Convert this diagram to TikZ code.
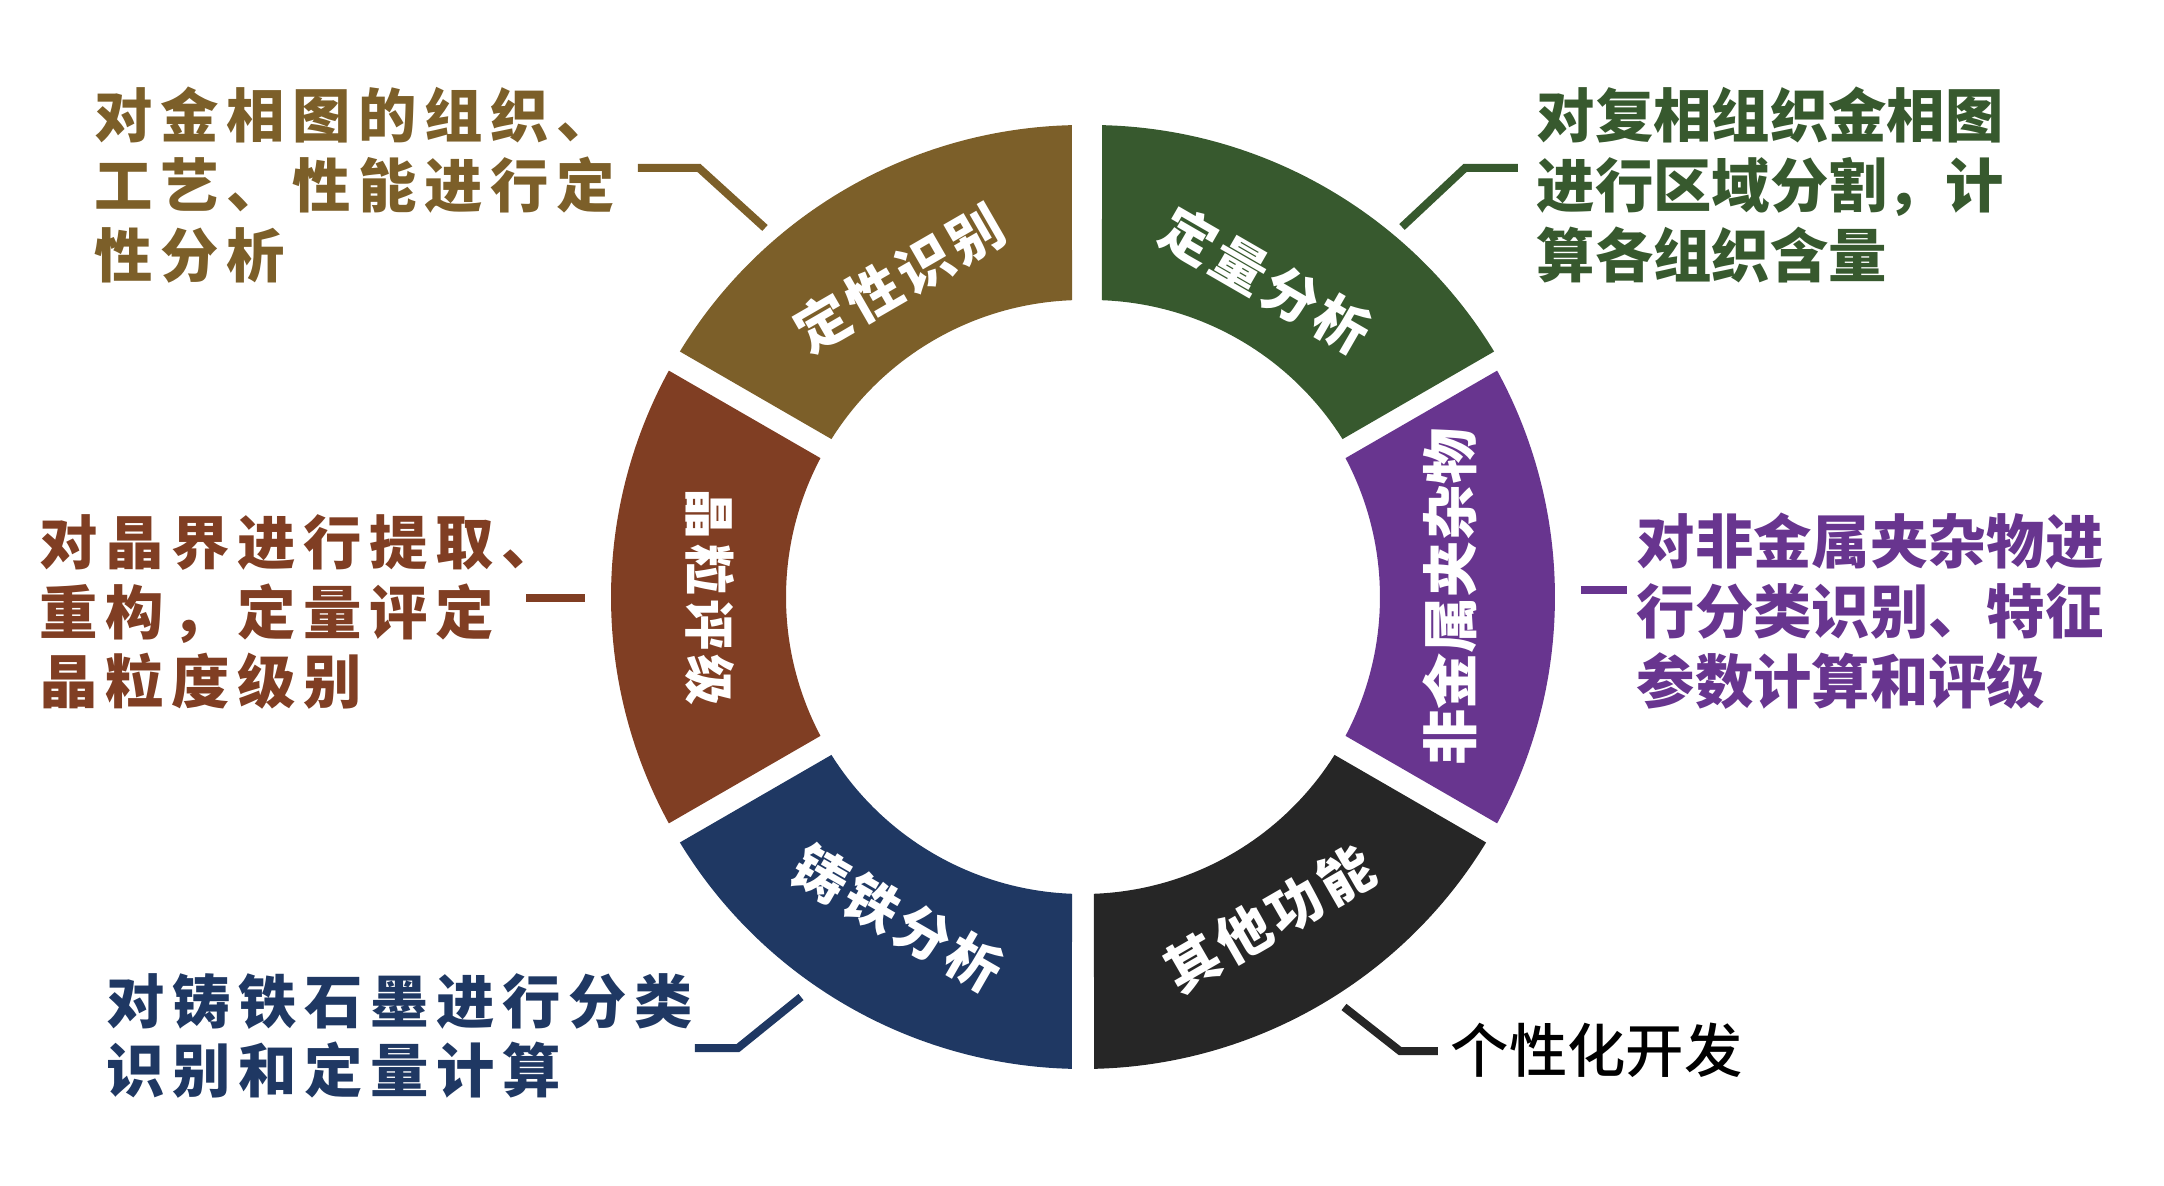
\documentclass[tikz,border=0pt]{standalone}
\usepackage{fontspec}
\newfontfamily\cjk{Noto Sans CJK SC}
\newfontfamily\cjkmed{Noto Sans CJK SC Medium}
\newfontfamily\cjkwide{Noto Sans CJK SC}[LetterSpace=13]
\newfontfamily\cjklbl{Noto Sans CJK SC}[LetterSpace=8]
\definecolor{cOlive}{HTML}{7C5F29}
\definecolor{cGreen}{HTML}{37592E}
\definecolor{cBrown}{HTML}{803E23}
\definecolor{cPurple}{HTML}{68358F}
\definecolor{cNavy}{HTML}{1F3863}
\definecolor{cDark}{HTML}{262626}

\begin{document}
\begin{tikzpicture}[
    seglabel/.style={text=white, inner sep=0pt, font=\cjklbl\bfseries\fontsize{15.5}{18}\selectfont},
    note/.style={anchor=west, align=left, inner sep=0pt, font=\cjk\bfseries\fontsize{16.6}{19.9}\selectfont},
    lead/.style={line width=0.08cm},
]
    \useasboundingbox (-10.83,-5.89) rectangle (10.81,5.97);

    \fill[cOlive] (91.34:4.72) arc[start angle=91.34, end angle=148.66, radius=4.72] -- (147.88:2.97) arc[start angle=147.88, end angle=92.12, radius=2.97] -- cycle;
    \fill[cBrown] (151.34:4.72) arc[start angle=151.34, end angle=208.66, radius=4.72] -- (207.88:2.97) arc[start angle=207.88, end angle=152.12, radius=2.97] -- cycle;
    \fill[cNavy] (211.34:4.72) arc[start angle=211.34, end angle=268.66, radius=4.72] -- (267.88:2.97) arc[start angle=267.88, end angle=212.12, radius=2.97] -- cycle;
    \fill[cDark] (271.34:4.72) arc[start angle=271.34, end angle=328.66, radius=4.72] -- (327.88:2.97) arc[start angle=327.88, end angle=272.12, radius=2.97] -- cycle;
    \fill[cPurple] (-28.66:4.72) arc[start angle=-28.66, end angle=28.66, radius=4.72] -- (27.88:2.97) arc[start angle=27.88, end angle=-27.88, radius=2.97] -- cycle;
    \fill[cGreen, xshift=0.08cm] (31.34:4.72) arc[start angle=31.34, end angle=88.66, radius=4.72] -- (87.88:2.97) arc[start angle=87.88, end angle=32.12, radius=2.97] -- cycle;

    \node[seglabel, rotate=30] (lbl1) at (120:3.68) {定性识别};
    \node[seglabel, rotate=-30] (lbl2) at (60:3.66) {定量分析};
    \node[seglabel, rotate=90, font=\cjk\bfseries\fontsize{16}{18}\selectfont] (lbl3) at (0:3.67) {非金属夹杂物};
    \node[seglabel, rotate=30] (lbl4) at (-60:3.72) {其他功能};
    \node[seglabel, rotate=-30] (lbl5) at (-120:3.71) {铸铁分析};
    \node[seglabel, rotate=-90, font=\cjklbl\bfseries\fontsize{14.5}{18}\selectfont] (lbl6) at (180:3.73) {晶粒评级};

    \node[note, text=cOlive, font=\cjkwide\bfseries\fontsize{16.6}{19.9}\selectfont] (txt1) at (-9.89,4.12) {对金相图的组织、\\工艺、性能进行定\\性分析};
    \node[note, text=cGreen] (txt2) at (4.53,4.12) {对复相组织金相图\\进行区域分割，计\\算各组织含量};
    \node[note, text=cBrown, font=\cjkwide\bfseries\fontsize{16.6}{19.9}\selectfont] (txt3) at (-10.44,-0.15) {对晶界进行提取、\\重构，定量评定\\晶粒度级别};
    \node[note, text=cPurple] (txt4) at (5.53,-0.14) {对非金属夹杂物进\\行分类识别、特征\\参数计算和评级};
    \node[note, text=cNavy, font=\cjkwide\bfseries\fontsize{16.6}{19.9}\selectfont] (txt5) at (-9.77,-4.39) {对铸铁石墨进行分类\\识别和定量计算};
    \node[note, text=black, font=\cjkmed\fontsize{16.6}{19.9}\selectfont] (txt6) at (3.67,-4.53) {个性化开发};

    \coordinate (a1) at (-3.18,3.69); \coordinate (b1) at (-3.84,4.29); \coordinate (c1) at (-4.45,4.29);
    \coordinate (a2) at (3.19,3.70); \coordinate (b2) at (3.82,4.29); \coordinate (c2) at (4.35,4.29);
    \coordinate (a3) at (-4.98,-0.01); \coordinate (c3) at (-5.57,-0.01);
    \coordinate (a4) at (4.98,0.07); \coordinate (c4) at (5.44,0.07);
    \coordinate (a5) at (-2.82,-4.00); \coordinate (b5) at (-3.45,-4.51); \coordinate (c5) at (-3.88,-4.51);
    \coordinate (a6) at (2.61,-4.10); \coordinate (b6) at (3.17,-4.54); \coordinate (c6) at (3.55,-4.54);

    \draw[lead, cOlive] (a1) -- (b1) -- (c1);
    \draw[lead, cGreen] (a2) -- (b2) -- (c2);
    \draw[lead, cBrown] (a3) -- (c3);
    \draw[lead, cPurple] (a4) -- (c4);
    \draw[lead, cNavy] (a5) -- (b5) -- (c5);
    \draw[lead, cDark] (a6) -- (b6) -- (c6);
\end{tikzpicture}
\end{document}
